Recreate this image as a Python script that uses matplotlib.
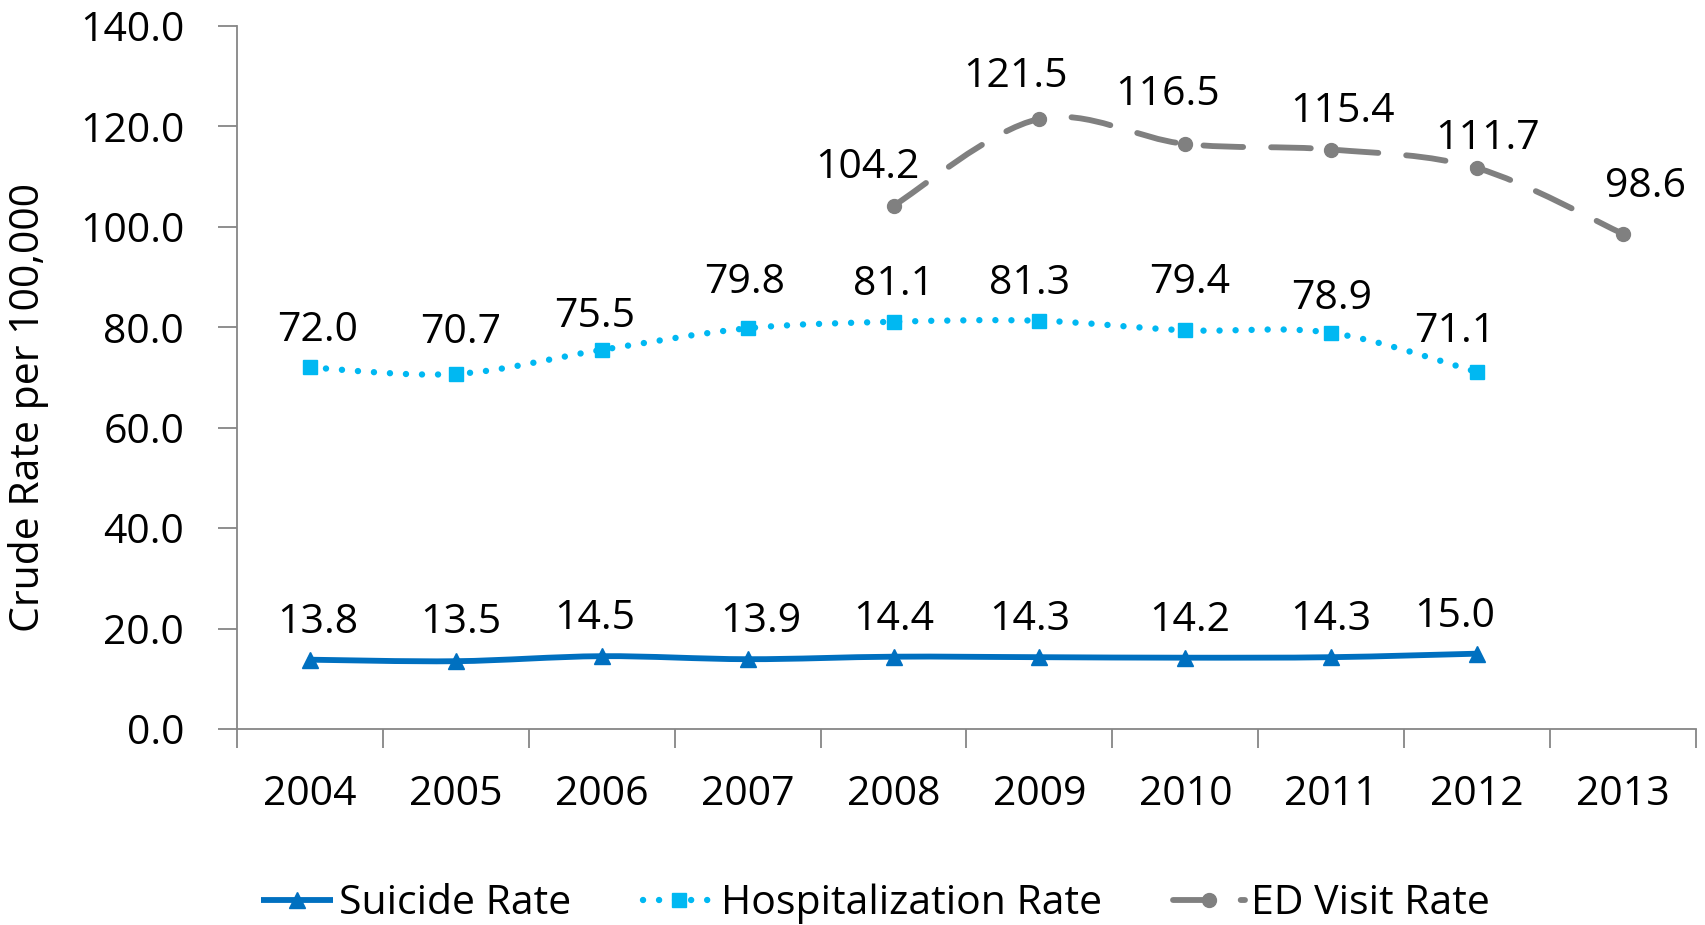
import numpy as np
import matplotlib
matplotlib.use("Agg")
import matplotlib.pyplot as plt
from matplotlib.path import Path
from matplotlib.patches import PathPatch
from matplotlib.lines import Line2D

plt.rcParams['font.family'] = ['Open Sans', 'DejaVu Sans']

years = ['2004', '2005', '2006', '2007', '2008', '2009', '2010', '2011', '2012', '2013']
suicide = [13.8, 13.5, 14.5, 13.9, 14.4, 14.3, 14.2, 14.3, 15.0]
hosp = [72.0, 70.7, 75.5, 79.8, 81.1, 81.3, 79.4, 78.9, 71.1]
ed_years = ['2008', '2009', '2010', '2011', '2012', '2013']
ed = [104.2, 121.5, 116.5, 115.4, 111.7, 98.6]

# label nudges in pixels (dx, dy), as placed in the original
suicide_off = [(8, 37), (5, 38), (-7, 37), (13, 37), (0, 37), (-10, 37), (4, 37), (0, 37), (-22, 37)]
hosp_off = [(8, 37), (5, 41), (-7, 33), (-3, 46), (0, 37), (-10, 37), (4, 48), (0, 34), (-22, 40)]
ed_off = [(-26, 38), (-24, 42), (-18, 49), (11, 38), (10, 29), (22, 47)]

FS = 29.5
AXIS_GRAY = '#868686'


def smooth_path(xs, ys):
    """Excel-like smoothed line: cubic Bezier through every point."""
    p = np.column_stack([xs, ys]).astype(float)
    n = len(p)
    verts = [p[0]]
    codes = [Path.MOVETO]
    for i in range(n - 1):
        p0 = p[max(i - 1, 0)]
        p3 = p[min(i + 2, n - 1)]
        c1 = p[i] + (p[i + 1] - p0) / 6.0
        c2 = p[i + 1] - (p3 - p[i]) / 6.0
        verts += [c1, c2, p[i + 1]]
        codes += [Path.CURVE4] * 3
    return Path(verts, codes)


fig = plt.figure(figsize=(17.05, 9.25), dpi=100)
ax = fig.add_axes([0.139, 0.2119, 0.8557, 0.76])

series = [
    ('Suicide Rate', years[:len(suicide)], suicide, '#0070C0', '-', '^', 11, suicide_off),
    ('Hospitalization Rate', years[:len(hosp)], hosp, '#00B8F2', (0, (0.01, 2.5)), 's', 10.5, hosp_off),
    ('ED Visit Rate', ed_years, ed, '#808080', (0, (6.8, 4.8)), 'o', 10, ed_off),
]

handles = []
for name, yrs, vals, color, ls, mk, ms, offs in series:
    xs = [years.index(y) for y in yrs]
    lw = 4.6 if mk == 's' else 4.2
    patch = PathPatch(smooth_path(xs, vals), facecolor='none', edgecolor=color,
                      lw=lw, linestyle=ls, capstyle='round', joinstyle='round', zorder=3)
    ax.add_patch(patch)
    ax.plot(xs, vals, ls='none', marker=mk, ms=ms, color=color, mec=color, zorder=4)
    for x, v, (dx, dy) in zip(xs, vals, offs):
        ax.annotate(f'{v:.1f}', (x, v), xytext=(dx, dy), textcoords='offset pixels',
                    ha='center', va='center', fontsize=FS, color='black', zorder=5)
    h = Line2D([], [], color=color, lw=lw, ls=ls, marker=mk, ms=ms,
               dash_capstyle='round', solid_capstyle='butt')
    handles.append(h)

ax.set_xlim(-0.5, len(years) - 0.5)
ax.set_ylim(0, 140)
ax.set_xticks(range(len(years)))
ax.set_xticklabels(years)
ax.set_xticks(np.arange(-0.5, len(years), 1.0), minor=True)
ax.set_yticks(np.arange(0, 141, 20))
ax.set_yticklabels([f'{v:.1f}' for v in np.arange(0, 141, 20)])

ax.tick_params(axis='x', which='major', length=0, pad=33, labelsize=FS)
ax.tick_params(axis='x', which='minor', length=14, width=1.3, color=AXIS_GRAY, direction='out')
ax.tick_params(axis='y', which='major', length=14, width=1.3, color=AXIS_GRAY,
               direction='out', pad=24, labelsize=FS)

for side in ['top', 'right']:
    ax.spines[side].set_visible(False)
for side in ['left', 'bottom']:
    ax.spines[side].set_color(AXIS_GRAY)
    ax.spines[side].set_linewidth(1.3)

fig.text(29 / 1705, 0.559, 'Crude Rate per 100,000', rotation=90,
         ha='center', va='center', fontsize=FS)

fig.legend(handles, [s[0] for s in series], loc='center', bbox_to_anchor=(0.5135, 0.0225),
           ncol=3, frameon=False, fontsize=FS, handlelength=1.75, handletextpad=0.15,
           columnspacing=1.75, borderaxespad=0, numpoints=1)

fig.savefig('out.png', dpi=100)
plt.close(fig)
